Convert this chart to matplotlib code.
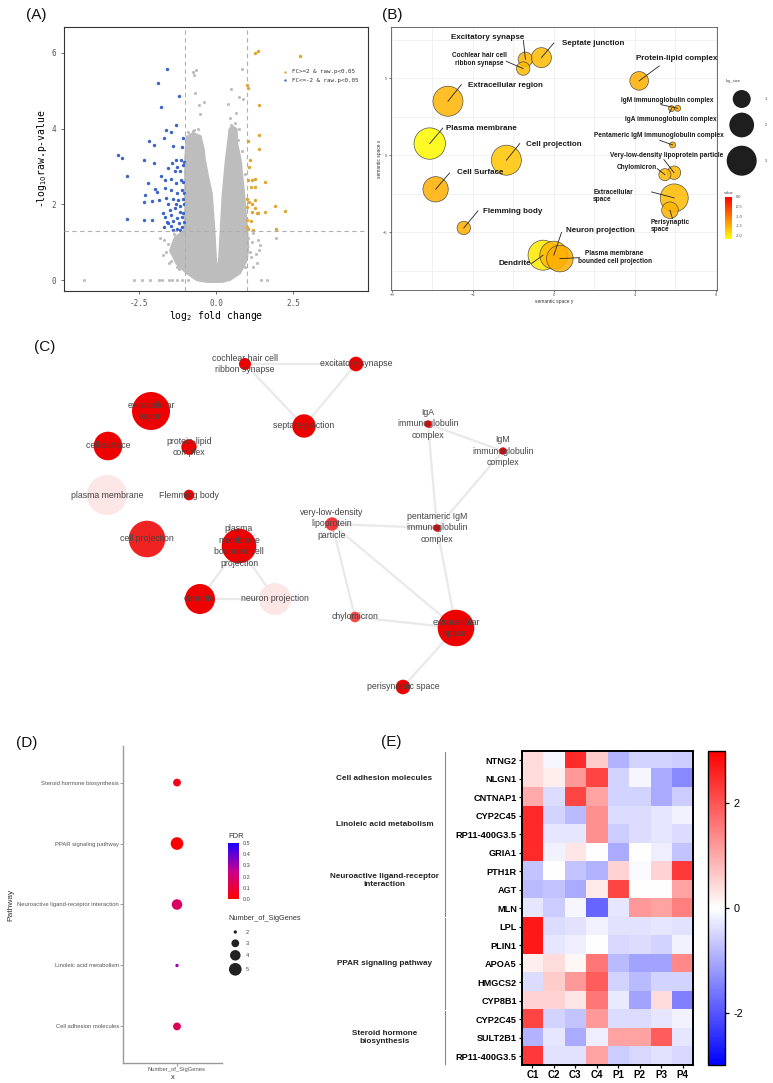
import matplotlib.pyplot as plt
import numpy as np
from matplotlib.colors import LinearSegmentedColormap, Normalize
from matplotlib.transforms import blended_transform_factory

plt.rcParams['font.family'] = ['Liberation Sans', 'DejaVu Sans']

# ==================== (A) volcano plot ====================
# outline of the dense grey cloud (log2FC, -log10 p)
cloud_x = [-0.63, -0.95, -1.28, -1.49, -1.33, -1.03, -1.0, -1.0, -1.0, -0.97, -0.95,
           -0.75, -0.50, -0.40, -0.36, -0.25, -0.14, -0.06, 0.0, 0.06,
           0.10, 0.16, 0.22, 0.32, 0.40, 0.45, 0.56, 0.67,
           0.69, 0.80, 0.91, 1.0, 1.05, 1.0, 0.78, 0.45, 0.2, -0.3]
cloud_y = [0.0, 0.18, 0.43, 0.78, 1.13, 1.30, 1.8, 2.5, 3.17, 3.5, 3.78,
           3.88, 3.80, 3.45, 3.17, 2.7, 2.29, 1.41, 0.53, 0.18,
           0.53, 1.41, 2.29, 3.17, 3.70, 4.00, 4.05, 3.98,
           3.6, 3.17, 2.29, 1.41, 0.88, 0.53, 0.18, 0.0, -0.05, -0.05]

grey_x = [-0.76, -0.65, -0.70, -0.68, -0.40, -0.54, 0.49, 0.85, 0.86, 0.76, 0.38, 0.45,
          0.64, -0.52, -0.76, -0.95, -0.52, 0.43, 0.56,
          -4.27, -2.65, -2.39, -2.14, -1.85, -1.74, -1.53, -1.42, -1.28, -1.11, -0.90,
          -0.52, 1.45, 1.65,
          -1.55, -1.62, -1.45, -1.70, -1.82, -1.20, -1.35, -1.15, -0.90, -0.70, -0.60,
          -0.85, 0.50, 0.62, 0.75, 0.72, 0.85, 0.95, 1.05, 1.10, 1.12, 0.95, 1.16,
          1.43, 1.30, 1.21, 1.37, 1.41, 1.32, 1.21, -1.28, -1.52, -1.71, -1.44, 1.95]
grey_y = [5.50, 5.54, 5.41, 4.94, 4.71, 4.62, 5.03, 5.57, 4.79, 4.84, 4.64, 4.29,
          4.40, 4.37, 3.93, 3.69, 3.78, 3.96, 3.94,
          0.0, 0.0, 0.0, 0.0, 0.0, 0.0, 0.0, 0.0, 0.0, 0.0, 0.0,
          0.0, 0.0, 0.0,
          0.95, 0.75, 0.50, 1.05, 1.10, 0.30, 1.22, 1.25, 3.90, 3.95, 4.00,
          3.60, 4.10, 4.15, 4.00, 3.70, 3.40, 2.80, 1.10, 0.75, 0.60, 0.35, 1.01,
          0.92, 0.70, 0.35, 1.06, 0.79, 0.44, 1.23, 0.35, 0.44, 0.66, 0.88, 1.10]

down_x = [-1.60, -1.87, -1.20, -1.77, -1.62, -1.31, -1.45, -1.68, -1.08, -2.18, -2.01,
          -1.41, -1.11, -3.19, -3.04, -2.34, -2.02, -1.42, -1.30, -1.14, -1.03, -1.06,
          -2.90, -1.80, -1.55, -1.28, -1.33, -1.17, -1.65, -1.47, -1.15, -1.08, -2.21,
          -1.31, -2.31, -1.97, -1.90, -1.65, -1.46, -1.28, -1.11, -1.03, -1.85, -1.63,
          -1.39, -1.22, -1.08, -2.34, -2.06, -1.57, -1.31, -1.17, -1.03, -1.71, -1.49,
          -1.33, -1.17, -1.06, -1.66, -1.47, -1.28, -1.11, -2.88, -2.33, -2.06, -1.60,
          -1.39, -1.20, -1.04, -1.68, -1.47, -1.28, -1.09, -1.39, -1.55, -1.17]
down_y = [5.58, 5.19, 4.85, 4.56, 3.96, 4.09, 3.91, 3.76, 3.76, 3.68, 3.56,
          3.54, 3.52, 3.30, 3.22, 3.17, 3.10, 3.08, 3.17, 3.18, 3.11, 3.03,
          2.74, 2.75, 2.95, 2.99, 2.88, 2.88, 2.64, 2.68, 2.64, 2.59, 2.57,
          2.55, 2.24, 2.41, 2.33, 2.42, 2.37, 2.30, 2.37, 2.29, 2.11, 2.17,
          2.15, 2.11, 2.13, 2.05, 2.08, 2.01, 2.01, 1.95, 2.02, 1.78, 1.85,
          1.89, 1.80, 1.76, 1.67, 1.72, 1.63, 1.67, 1.61, 1.58, 1.58, 1.54,
          1.57, 1.51, 1.54, 1.41, 1.42, 1.36, 1.39, 1.32, 1.51, 1.32]

up_x = [1.37, 1.27, 2.71, 1.00, 1.05, 1.41, 1.39, 1.04, 1.39, 1.10, 1.08, 1.04, 1.16,
        1.25, 1.59, 1.13, 1.27, 1.02, 1.08, 1.27, 1.18, 1.02, 1.25, 1.32, 1.16, 1.60,
        1.37, 1.92, 2.24, 1.00, 1.13, 1.01, 1.05, 1.21, 1.95]
up_y = [6.04, 6.00, 5.92, 5.15, 5.08, 4.62, 3.84, 3.68, 3.47, 3.18, 2.99, 2.64, 2.64,
        2.68, 2.59, 2.45, 2.45, 2.13, 2.07, 2.11, 2.01, 1.93, 1.89, 1.78, 1.80, 1.79,
        1.76, 1.96, 1.83, 1.58, 1.57, 1.41, 1.34, 1.32, 1.34]

fc_cut = 1.0
p_cut = 1.3

# ==================== (B) REVIGO bubble plot ====================
go_terms = ["Excitatory synapse", "Septate junction", "Cochlear hair cell\nribbon synapse",
            "Protein-lipid complex", "Extracellular region", "IgM immunoglobulin complex",
            "IgA immunoglobulin complex", "Pentameric IgM immunoglobulin complex",
            "Plasma membrane", "Cell projection", "Very-low-density lipoprotein particle",
            "Chylomicron", "Cell Surface", "Extracellular\nspace", "Perisynaptic\nspace",
            "Flemming body", "Dendrite", "Neuron projection",
            "Plasma membrane\nbounded cell projection"]
go_x = [-1.40, -0.61, -1.51, 4.21, -5.22, 6.11, 5.81, 5.86, -6.12, -2.34, 5.93, 5.48,
        -5.83, 5.94, 5.73, -4.44, -0.53, 0.0, 0.30]
go_y = [6.23, 6.34, 5.63, 4.83, 3.51, 3.05, 3.03, 0.67, 0.76, -0.32, -1.13, -1.26,
        -2.21, -2.77, -3.57, -4.72, -6.49, -6.49, -6.71]
go_value = [-1.55, -1.6, -1.6, -1.5, -1.55, -1.5, -1.5, -1.5, -2.15, -1.7, -1.55, -1.6,
            -1.5, -1.6, -1.55, -1.5, -2.0, -1.6, -1.5]
go_logsize = [0.61, 1.26, 0.5, 1.08, 3.0, 0.0, 0.0, 0.0, 3.3, 3.0, 0.5, 0.38, 2.1, 2.6,
              0.83, 0.5, 3.0, 2.6, 2.33]
go_small = [False, False, True, False, False, True, True, True, False, False, True, True,
            False, True, True, False, False, False, True]
go_lab_x = [-3.28, 1.93, -3.69, 6.06, -2.37, 5.60, 5.76, 5.20, -3.57, 0.02, 5.56, 4.08,
            -3.65, 1.94, 4.77, -2.01, -1.93, 2.30, 3.0]
go_lab_y = [7.64, 7.29, 6.21, 6.28, 4.50, 3.53, 2.34, 1.30, 1.77, 0.71, 0.0, -0.82,
            -1.15, -2.64, -4.59, -3.66, -7.03, -4.87, -6.65]
go_lab_ha = ["center"] * 13 + ["left", "left"] + ["center"] * 4
go_seg_x = [-1.5, 0.0, -2.34, 5.20, -4.56, 5.28, 5.70, 5.23, -5.47, -1.68, 5.43, 5.10,
            -5.14, 4.82, 5.85, -3.74, -1.10, 0.38, 1.28]
go_seg_y = [7.45, 7.29, 6.10, 5.80, 4.59, 3.29, 2.75, 0.97, 1.77, 0.76, -0.28, -0.87,
            -1.15, -2.38, -4.10, -3.61, -7.03, -5.02, -6.65]
size_legend = [1, 2, 3]
value_ticks = [0.0, -0.5, -1.0, -1.5, -2.0]

# ==================== (C) GO network ====================
node_names = ["cochlear hair cell\nribbon synapse", "excitatory synapse", "extracellular\nregion",
              "septate junction", "cell surface", "protein-lipid\ncomplex",
              "IgA\nimmunoglobulin\ncomplex", "IgM\nimmunoglobulin\ncomplex", "plasma membrane",
              "Flemming body", "very-low-density\nlipoprotein\nparticle",
              "pentameric IgM\nimmunoglobulin\ncomplex", "cell projection",
              "plasma\nmembrane\nbounded cell\nprojection", "dendrite", "neuron projection",
              "chylomicron", "extracellular\nspace", "perisynaptic space"]
node_x = [245, 356, 151, 304, 108, 189, 428, 503, 107, 189, 332, 437, 147, 239, 200, 275,
          355, 456, 403]
node_y = [364, 364, 411, 426, 446, 447, 424, 451, 495, 495, 524, 528, 539, 546, 599, 599,
          617, 628, 687]
node_r = [6, 7.3, 19, 11.7, 14.3, 7.7, 3.7, 3.7, 20, 5.3, 6.7, 3.7, 18.3, 17.3, 15, 16,
          5.3, 18.3, 7.3]
node_level = [1, 1, 1, 1, 1, 1, 1, 1, 0.1, 1, 0.78, 1, 0.86, 1, 1, 0.1, 0.72, 1, 1]
edges = [(0, 1), (0, 3), (1, 3), (6, 7), (6, 11), (7, 11), (10, 11), (10, 16), (10, 17),
         (11, 17), (16, 17), (17, 18), (13, 14), (13, 15), (14, 15)]

# ==================== (D) KEGG dot plot ====================
pathways = ["Cell adhesion molecules", "Linoleic acid metabolism",
            "Neuroactive ligand-receptor interaction", "PPAR signaling pathway",
            "Steroid hormone biosynthesis"]
n_sig = [3, 2, 4, 5, 3]
fdr = [0.15, 0.30, 0.17, 0.01, 0.04]
nsig_legend = [2, 3, 4, 5]
fdr_ticks = [0.0, 0.1, 0.2, 0.3, 0.4, 0.5]

# ==================== (E) heatmap ====================
genes = ["NTNG2", "NLGN1", "CNTNAP1", "CYP2C45", "RP11-400G3.5", "GRIA1", "PTH1R", "AGT",
         "MLN", "LPL", "PLIN1", "APOA5", "HMGCS2", "CYP8B1", "CYP2C45", "SULT2B1",
         "RP11-400G3.5"]
samples = ["C1", "C2", "C3", "C4", "P1", "P2", "P3", "P4"]
expr = np.array([
    [0.4, -0.1, 2.5, 0.6, -0.9, -0.5, -0.5, -0.6],
    [0.4, 0.2, 1.2, 2.2, -0.5, -0.1, -1.0, -1.4],
    [1.0, -0.4, 2.2, 1.1, -0.5, -0.5, -1.0, -0.6],
    [2.5, -0.5, -0.8, 1.3, -0.4, -0.4, -0.3, -0.15],
    [2.5, -0.3, -0.3, 1.3, -0.6, -0.4, -0.3, -0.4],
    [2.5, -0.15, 0.3, 0.0, -1.0, 0.0, -0.2, -0.7],
    [-0.7, 0.0, -0.7, -0.9, 0.5, -0.05, 0.5, 2.3],
    [-0.8, -0.7, -1.0, 0.25, 2.2, 0.0, 0.0, 1.1],
    [-0.3, -0.6, -0.1, -1.8, -0.3, 1.2, 1.1, 1.5],
    [2.7, -0.4, -0.35, -0.15, -0.35, -0.35, -0.3, -0.35],
    [2.7, -0.3, -0.2, 0.0, -0.45, -0.4, -0.5, -0.15],
    [0.2, 0.4, 0.1, 1.6, -0.8, -1.1, -1.1, 1.4],
    [-0.4, 0.6, 1.2, 1.9, -0.5, -0.8, -0.5, -0.5],
    [0.5, 0.5, 0.3, 1.6, -0.25, -1.1, 0.4, -1.5],
    [2.2, -0.5, -0.7, 1.2, -0.4, -0.4, -0.3, -0.15],
    [-0.9, -0.3, -1.0, -0.2, 1.1, 1.1, 1.9, -0.3],
    [2.3, -0.35, -0.35, 1.1, -0.6, -0.45, -0.35, -0.45],
])
groups = ["Cell adhesion molecules", "Linoleic acid metabolism",
          "Neuroactive ligand-receptor\ninteraction", "PPAR signaling pathway",
          "Steroid hormone\nbiosynthesis"]
group_rows = [(0, 2), (3, 4), (5, 8), (9, 13), (14, 16)]

# ==================== figure ====================
W, H = 773, 1083
fig = plt.figure(figsize=(W / 100, H / 100), dpi=100)


def px_axes(x0, y0, x1, y1):
    return fig.add_axes([x0 / W, 1 - y1 / H, (x1 - x0) / W, (y1 - y0) / H])


def pt_area(r_px):
    # radius in pixels -> scatter area in points^2
    return (2 * np.asarray(r_px) * 0.72) ** 2


# ---------- (A) ----------
mono = 'DejaVu Sans Mono'
axA = px_axes(64, 27, 368, 291)
axA.fill(cloud_x, cloud_y, color='#bdbdbd', ec='#bdbdbd', lw=1.5, zorder=1)
axA.scatter(grey_x, grey_y, s=5, color='#bdbdbd', lw=0, zorder=2)
axA.scatter(down_x, down_y, s=6, color='#3a64c8', lw=0, zorder=3,
            label='FC<=-2 & raw.p<0.05')
axA.scatter(up_x, up_y, s=6, color='#e0a530', lw=0, zorder=3,
            label='FC>=2 & raw.p<0.05')
for xv in (-fc_cut, fc_cut):
    axA.axvline(xv, color='#b0b0b0', lw=0.8, ls=(0, (4, 3)), zorder=4)
axA.axhline(p_cut, color='#b0b0b0', lw=0.8, ls=(0, (4, 3)), zorder=4)
axA.set_xlim(-4.93, 4.93)
axA.set_ylim(-0.29, 6.68)
axA.set_xticks([-2.5, 0, 2.5], ['-2.5', '0.0', '2.5'], family=mono)
axA.set_yticks([0, 2, 4, 6], ['0', '2', '4', '6'], family=mono)
axA.tick_params(labelsize=5.5, labelcolor='#555555', length=2, width=0.6, color='#555555')
for sp in axA.spines.values():
    sp.set_color('#333333')
    sp.set_linewidth(0.8)
axA.set_xlabel('log$_2$ fold change', family=mono, fontsize=7, labelpad=1)
axA.set_ylabel('-log$_{10}$raw.p-value', family=mono, fontsize=7, labelpad=2)
hA, lA = axA.get_legend_handles_labels()
legA = axA.legend(hA[::-1], lA[::-1], loc='upper left', bbox_to_anchor=(0.69, 0.86),
                  frameon=False, prop={'family': mono, 'size': 4.2}, handletextpad=0.2,
                  markerscale=0.7, labelspacing=0.6)
for t in legA.get_texts():
    t.set_color('#333333')

# ---------- (B) ----------
cmapB = LinearSegmentedColormap.from_list('yr', ['#ffff00', '#ff0000'])
normB = Normalize(vmin=-2.2, vmax=0.0)


def revigo_area(ls):
    return pt_area(np.sqrt(9 + 72 * np.asarray(ls, dtype=float)))


axB = px_axes(391, 27, 717, 290)
axB.set_xlim(-8.03, 8.05)
axB.set_ylim(-8.75, 8.33)
axB.set_xticks([-8, -4, 0, 4, 8])
axB.set_yticks([-5, 0, 5])
axB.set_xticks([-6, -2, 2, 6], minor=True)
axB.set_yticks([-7.5, -2.5, 2.5, 7.5], minor=True)
axB.grid(True, which='both', color='#ececec', lw=0.5)
axB.set_axisbelow(True)
axB.tick_params(which='major', labelsize=3, labelcolor='#555555', length=1.5, width=0.4,
                pad=1)
axB.tick_params(which='minor', length=0)
for sp in axB.spines.values():
    sp.set_color('#555555')
    sp.set_linewidth(0.6)
axB.set_xlabel('semantic space y', fontsize=3.5, labelpad=1, color='#333333')
axB.set_ylabel('semantic space x', fontsize=3.5, labelpad=1, color='#333333')
scB = axB.scatter(go_x, go_y, s=revigo_area(go_logsize), c=go_value, cmap=cmapB, norm=normB,
                  edgecolors='#3a3a3a', linewidths=0.5, alpha=0.85, zorder=3)
for i, name in enumerate(go_terms):
    axB.plot([go_seg_x[i], go_x[i]], [go_seg_y[i], go_y[i]], color='#222222', lw=0.6,
             zorder=4)
    axB.text(go_lab_x[i], go_lab_y[i], name, ha=go_lab_ha[i], va='center',
             fontsize=4.7 if go_small[i] else 5.8, fontweight='bold', color='#1a1a1a',
             linespacing=1.15, zorder=5)

caxB = px_axes(725, 197, 732, 239)
cbB = fig.colorbar(scB, cax=caxB, ticks=value_ticks)
cbB.solids.set_alpha(1)
cbB.outline.set_visible(False)
cbB.ax.set_yticklabels([f'{v:.1f}' for v in value_ticks])
cbB.ax.tick_params(labelsize=2.8, length=1.5, width=0.4, color='white', pad=1,
                   labelcolor='#444444')

# ---------- (C) ----------
cmapC = LinearSegmentedColormap.from_list('wr', ['#ffffff', '#ee0000'])
axC = px_axes(0, 320, 520, 710)
axC.set_xlim(0, 520)
axC.set_ylim(710, 320)
axC.axis('off')
for a, b in edges:
    axC.plot([node_x[a], node_x[b]], [node_y[a], node_y[b]], color='#e9e9e9', lw=1.6,
             zorder=1, solid_capstyle='round')
axC.scatter(node_x, node_y, s=pt_area(node_r), c=cmapC(node_level), lw=0, zorder=2)
for i, name in enumerate(node_names):
    axC.text(node_x[i], node_y[i], name, ha='center', va='center', fontsize=6.3,
             color='#444444', linespacing=1.4, zorder=3)

# ---------- (D) ----------
cmapD = LinearSegmentedColormap.from_list('rb', ['#ff0000', '#c7008e', '#1a00ff'])
normD = Normalize(vmin=0.0, vmax=0.5)


def nsig_area(n):
    return pt_area(np.sqrt(12.4 * np.asarray(n, dtype=float) - 22))


axD = px_axes(123, 746, 222, 1063)
ypos = np.arange(1, len(pathways) + 1)
scD = axD.scatter(np.ones(len(pathways)), ypos, s=nsig_area(n_sig), c=fdr, cmap=cmapD,
                  norm=normD, lw=0, zorder=3)
axD.set_xlim(0.4, 1.5)
axD.set_ylim(0.4, 5.6)
axD.set_yticks(ypos, pathways)
axD.set_xticks([1], ['Number_of_SigGenes'])
axD.tick_params(labelsize=4.2, labelcolor='#555555', length=2, width=0.5,
                color='#777777', pad=1)
for side in ('top', 'right'):
    axD.spines[side].set_visible(False)
for side in ('left', 'bottom'):
    axD.spines[side].set_color('#9a9a9a')
    axD.spines[side].set_linewidth(1.0)
axD.set_xlabel('x', fontsize=5.5, labelpad=1, color='#333333')
axD.set_ylabel('Pathway', fontsize=6, labelpad=2, color='#333333')

caxD = px_axes(228, 843, 239, 899)
cbD = fig.colorbar(scD, cax=caxD, ticks=fdr_ticks)
cbD.outline.set_visible(False)
cbD.ax.set_yticklabels([f'{v:.1f}' for v in fdr_ticks])
cbD.ax.tick_params(labelsize=4, length=1.5, width=0.4, color='white', pad=1,
                   labelcolor='#444444')

# ---------- (E) ----------
cmapE = LinearSegmentedColormap.from_list('bwr2', ['#0000ff', '#ffffff', '#ff0000'])
axE = px_axes(521.7, 751, 693.3, 1065.3)
imE = axE.imshow(expr, cmap=cmapE, vmin=-3, vmax=3, aspect='auto', interpolation='nearest')
axE.set_yticks(range(len(genes)), genes)
axE.set_xticks(range(len(samples)), samples)
axE.tick_params(axis='y', labelsize=6.6, length=2.5, width=0.9, pad=1)
axE.tick_params(axis='x', labelsize=7, length=2.5, width=0.9, pad=1)
for lab in axE.get_xticklabels() + axE.get_yticklabels():
    lab.set_fontweight('bold')
for sp in axE.spines.values():
    sp.set_linewidth(1.4)

trE = blended_transform_factory(axE.transAxes, axE.transData)
for name, (r0, r1) in zip(groups, group_rows):
    axE.plot([-0.447, -0.447], [r0 - 0.45, r1 + 0.45], color='#888888', lw=0.8,
             transform=trE, clip_on=False)
    axE.text(-0.80, (r0 + r1) / 2, name, transform=trE, ha='center', va='center',
             fontsize=5.9, fontweight='bold', color='#222222', linespacing=1.3)

caxE = px_axes(708.3, 751, 725, 1065.3)
cbE = fig.colorbar(imE, cax=caxE, ticks=[-2, 0, 2])
cbE.ax.set_yticklabels(['-2', '0', '2'])
cbE.ax.tick_params(labelsize=7.8, length=3, width=0.9, pad=3)
cbE.outline.set_linewidth(1.0)

# ---------- overlay: panel tags and size legends ----------
axO = fig.add_axes([0, 0, 1, 1])
axO.set_xlim(0, W)
axO.set_ylim(H, 0)
axO.axis('off')
for tag, tx, ty in [('(A)', 36, 15), ('(B)', 392, 15), ('(C)', 45, 347),
                    ('(D)', 27, 743), ('(E)', 391, 742)]:
    axO.text(tx, ty, tag, fontsize=11, ha='center', va='center', color='#111111')

# B size legend
axO.text(726, 81, 'log_size', fontsize=3, ha='left', va='center', color='#444444')
leg_y = [99, 125, 160.7]
axO.scatter([741.7] * 3, leg_y, s=revigo_area(size_legend), color='#1e1e1e', lw=0)
for v, yy in zip(size_legend, leg_y):
    axO.text(765, yy, str(v), fontsize=2.8, va='center', color='#444444')
axO.text(724, 193, 'value', fontsize=3, ha='left', va='center', color='#444444')

# D legends
axO.text(228, 836, 'FDR', fontsize=5.5, ha='left', va='center', color='#333333')
axO.text(228, 919, 'Number_of_SigGenes', fontsize=5.3, ha='left', va='center',
         color='#333333')
leg_yD = [932, 943.3, 955.3, 969.3]
axO.scatter([235.3] * 4, leg_yD, s=nsig_area(nsig_legend), color='#222222', lw=0)
for v, yy in zip(nsig_legend, leg_yD):
    axO.text(246, yy, str(v), fontsize=4, va='center', color='#444444')

fig.savefig('out.png', dpi=100)
